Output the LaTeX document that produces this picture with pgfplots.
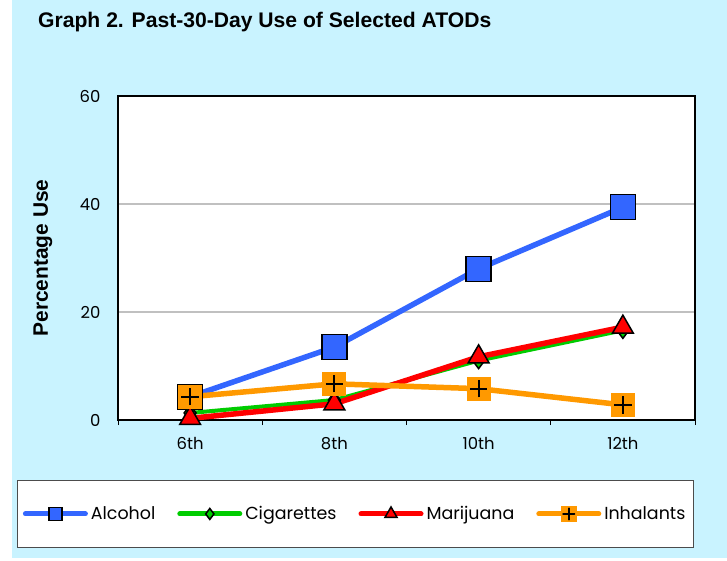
\documentclass[border=0pt]{standalone}
\usepackage{fontspec}
\setmainfont{Liberation Sans}
\newfontfamily\gothic{Poppins}
\usepackage{pgfplots}
\pgfplotsset{compat=1.18}
\definecolor{bg}{HTML}{C9F3FF}
\definecolor{alc}{HTML}{3366FF}
\definecolor{cig}{HTML}{00CC00}
\definecolor{mar}{HTML}{FF0000}
\definecolor{inh}{HTML}{FF9900}
\definecolor{gridc}{HTML}{C0C0C0}
\pgfdeclareplotmark{sqplus}{%
  \pgfpathrectangle{\pgfqpoint{-\pgfplotmarksize}{-\pgfplotmarksize}}{\pgfqpoint{2\pgfplotmarksize}{2\pgfplotmarksize}}%
  \pgfusepath{fill}%
  \pgfsetstrokecolor{black}%
  \pgfpathmoveto{\pgfqpoint{-0.72\pgfplotmarksize}{0pt}}%
  \pgfpathlineto{\pgfqpoint{0.72\pgfplotmarksize}{0pt}}%
  \pgfpathmoveto{\pgfqpoint{0pt}{-0.72\pgfplotmarksize}}%
  \pgfpathlineto{\pgfqpoint{0pt}{0.72\pgfplotmarksize}}%
  \pgfusepath{stroke}}
\begin{document}
\begin{tikzpicture}
\fill[white] (0bp,0bp) rectangle (727bp,561bp);
\fill[bg] (12bp,3bp) rectangle (727bp,561bp);
\node[anchor=base west, inner sep=0pt, font=\bfseries\fontsize{21.2}{24}\selectfont] at (38bp,533bp) {Graph 2. Past-30-Day Use of Selected ATODs};
\begin{axis}[
  at={(118bp,141bp)}, anchor=south west,
  width=577bp, height=324bp, scale only axis,
  xmin=-0.5, xmax=3.5, ymin=0, ymax=60,
  axis background/.style={fill=white},
  axis line style={black, line width=1.5bp},
  xtick={0,1,2,3}, xticklabels={6th,8th,10th,12th},
  minor xtick={-0.5,0.5,1.5,2.5,3.5},
  ytick={0,20,40,60},
  tick pos=left,
  major tick length=0pt,
  minor tick length=5bp,
  tick align=outside,
  minor tick style={black, line width=1bp},
  ymajorgrids, major grid style={gridc, line width=1.5bp},
  /pgf/number format/assume math mode=true,
  tick label style={font=\gothic\fontsize{16.5}{18}\selectfont},
  yticklabel shift=14bp,
  xticklabel shift=14bp,
  ylabel={Percentage Use},
  ylabel style={at={(axis description cs:-0.13,0.5)}, anchor=center, font=\bfseries\fontsize{21}{24}\selectfont},
  legend columns=4,
  legend style={at={(axis description cs:0.411,-0.29)}, anchor=center,
    draw=black!70, line width=0.8bp, fill=white,
    font=\gothic\fontsize{17.5}{20}\selectfont,
    inner xsep=6bp, inner ysep=24bp,
    /tikz/every even column/.append style={column sep=20bp},
    /tikz/every odd column/.append style={column sep=1bp}},
  legend image code/.code={\draw[mark repeat=2,mark phase=2,line cap=round,#1] plot coordinates {(0bp,0bp)(30bp,0bp)(60bp,0bp)};},
  clip=false,
]
\addlegendimage{alc, line width=5bp, mark=square*, mark size=6.5bp, mark options={solid, fill=alc, draw=black, line width=1.5bp}}
\addlegendentry{Alcohol}
\addlegendimage{cig, line width=5bp, mark=diamond*, mark size=5.5bp, mark options={solid, fill=cig, draw=black, line width=1.5bp}}
\addlegendentry{Cigarettes}
\addlegendimage{mar, line width=5bp, mark=triangle*, mark size=7bp, mark options={solid, fill=mar, draw=black, line width=1.5bp}}
\addlegendentry{Marijuana}
\addlegendimage{inh, line width=5bp, mark=sqplus, mark size=8bp, mark options={solid, fill=inh, line width=1.5bp}}
\addlegendentry{Inhalants}

\addplot[alc, line width=5.5bp, mark=square*, mark size=12.5bp, mark options={solid, fill=alc, draw=black, line width=1.5bp}, forget plot]
  coordinates {(0,4.3)(1,13.5)(2,28.0)(3,39.4)};
\addplot[cig, line width=4bp, mark=diamond*, mark size=8bp, mark options={solid, fill=cig, draw=black, line width=1.5bp}, forget plot]
  coordinates {(0,1.3)(1,3.7)(2,11.0)(3,16.6)};
\addplot[mar, line width=5.5bp, mark=triangle*, mark size=12bp, mark options={solid, fill=mar, draw=black, line width=1.5bp}, forget plot]
  coordinates {(0,0.3)(1,3.0)(2,11.7)(3,17.2)};
\addplot[inh, line width=5.5bp, mark=sqplus, mark size=12bp, mark options={solid, fill=inh, line width=1.8bp}, forget plot]
  coordinates {(0,4.3)(1,6.7)(2,5.8)(3,2.8)};
\end{axis}
\end{tikzpicture}
\end{document}
